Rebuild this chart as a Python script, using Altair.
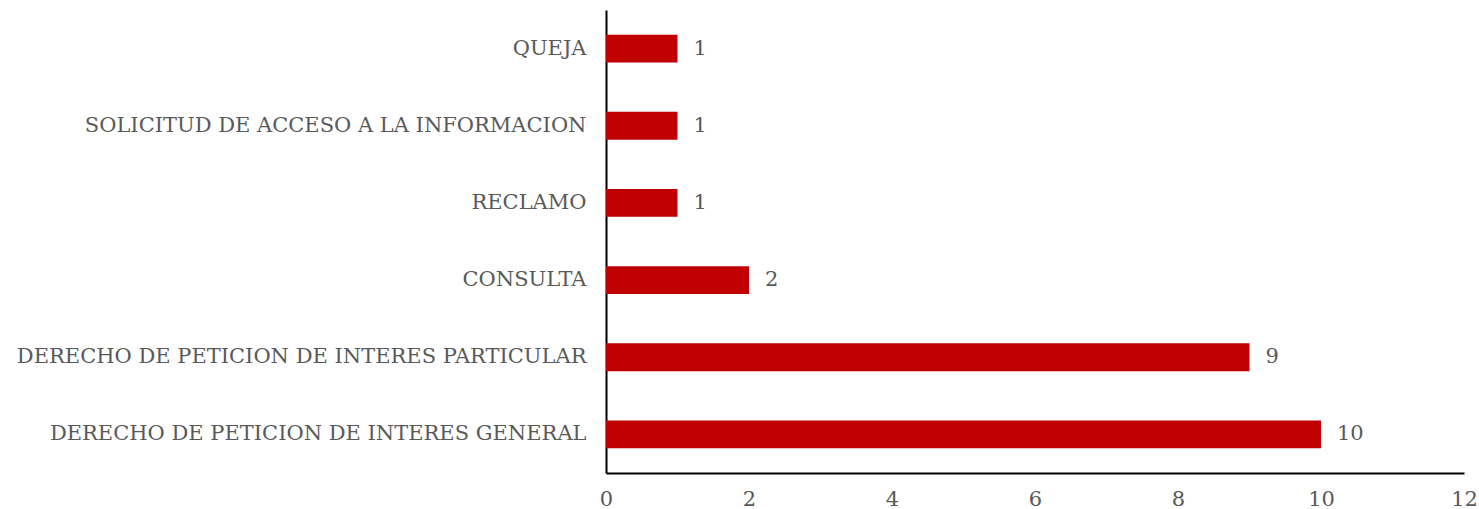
import altair as alt
import pandas as pd

categories = [
    "QUEJA",
    "SOLICITUD DE ACCESO A LA INFORMACION",
    "RECLAMO",
    "CONSULTA",
    "DERECHO DE PETICION DE INTERES PARTICULAR",
    "DERECHO DE PETICION DE INTERES GENERAL",
]
values = [1, 1, 1, 2, 9, 10]
x_ticks = [0, 2, 4, 6, 8, 10, 12]

df = pd.DataFrame({"cat": categories, "val": values})

FONT = "DejaVu Serif"
GRAY = "#595959"
FS = 21

y_enc = alt.Y(
    "cat:N",
    sort=categories,
    title=None,
    scale=alt.Scale(paddingInner=0.64, paddingOuter=0.32),
    axis=alt.Axis(
        ticks=False,
        grid=False,
        labelFont=FONT,
        labelFontSize=FS,
        labelColor=GRAY,
        labelPadding=20,
        labelLimit=800,
        domainColor="black",
        domainWidth=2,
    ),
)
x_enc = alt.X(
    "val:Q",
    title=None,
    scale=alt.Scale(domain=[0, 12], nice=False),
    axis=alt.Axis(
        values=x_ticks,
        format="d",
        ticks=False,
        grid=False,
        labelFlush=False,
        labelFont=FONT,
        labelFontSize=FS,
        labelColor=GRAY,
        labelPadding=15,
        domainColor="black",
        domainWidth=2,
    ),
)

base = alt.Chart(df).encode(y=y_enc, x=x_enc)
bars = base.mark_bar(color="#C00000")
labels = base.mark_text(
    align="left", baseline="middle", dx=16, font=FONT, fontSize=FS, color=GRAY
).encode(text="val:Q")

chart = (
    alt.layer(bars, labels)
    .properties(
        width=858,
        height=463,
        autosize=alt.AutoSizeParams(type="none"),
        padding={"left": 606, "top": 10, "right": 15, "bottom": 36},
        view=alt.ViewBackground(stroke="transparent", strokeWidth=0),
    )
    .configure_view(strokeWidth=0, stroke="transparent")
    .configure(background="white")
)

chart.save("out.html", embed_options={"renderer": "svg", "actions": False})
